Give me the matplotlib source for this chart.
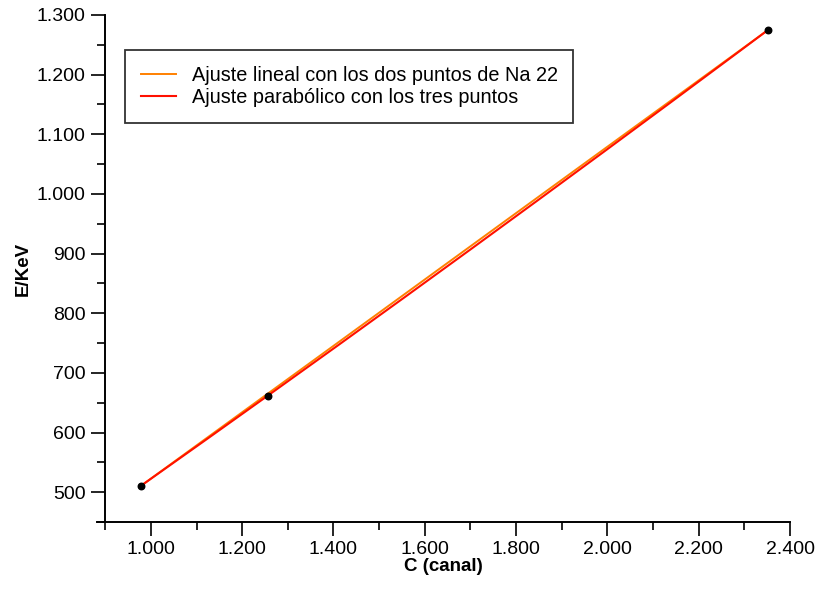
import matplotlib.pyplot as plt
import numpy as np
from matplotlib.ticker import FuncFormatter, MultipleLocator

plt.rcParams['font.family'] = ['Liberation Sans', 'DejaVu Sans']

# Canales medidos y energías de los fotopicos (Na 22 y Cs 137)
canal = [979, 1256, 2351]
energia = [511.0, 661.7, 1274.5]
canal_na = [979, 2351]
energia_na = [511.0, 1274.5]


def miles(v, pos):
    return f'{v:,.0f}'.replace(',', '.')


fig = plt.figure(figsize=(8.15, 5.9), dpi=100)
ax = fig.add_axes([0.119, 0.1153, 0.8504, 0.8593])

x = np.linspace(min(canal), max(canal), 200)
lin = np.polyfit(canal_na, energia_na, 1)
par = np.polyfit(canal, energia, 2)

ax.plot(x, np.polyval(lin, x), color='#ff8000', lw=1.4,
        label='Ajuste lineal con los dos puntos de Na 22')
ax.plot(x, np.polyval(par, x), color='#ff1000', lw=1.5,
        label='Ajuste parabólico con los tres puntos')
ax.scatter(canal, energia, s=22, color='black', zorder=3)

ax.set_xlim(882, 2400)
ax.set_ylim(450, 1300)
ax.spines['left'].set_position(('data', 900))
ax.spines['top'].set_visible(False)
ax.spines['right'].set_visible(False)
for s in ('left', 'bottom'):
    ax.spines[s].set_linewidth(1.4)

ax.xaxis.set_major_locator(MultipleLocator(200))
ax.xaxis.set_minor_locator(MultipleLocator(100))
ax.yaxis.set_major_locator(MultipleLocator(100))
ax.yaxis.set_minor_locator(MultipleLocator(50))
ax.xaxis.set_major_formatter(FuncFormatter(miles))
ax.yaxis.set_major_formatter(FuncFormatter(miles))
ax.set_xticks([v for v in ax.get_xticks() if 1000 <= v <= 2400])
ax.set_yticks([v for v in ax.get_yticks() if 500 <= v <= 1300])
ax.tick_params(which='major', length=10, width=1.2, labelsize=14, pad=4)
ax.tick_params(which='minor', length=6, width=1.2)

ax.set_xlabel('C (canal)', fontsize=13.5, fontweight='bold', labelpad=0)
ax.set_ylabel('E/KeV', fontsize=13.5, fontweight='bold', labelpad=4)

leg = ax.legend(loc='upper left', bbox_to_anchor=(0.0404, 0.931), fontsize=14.3,
                frameon=True, fancybox=False, edgecolor='black',
                handlelength=1.75, handletextpad=0.8, borderpad=0.8,
                labelspacing=0.15, borderaxespad=0)
leg.get_frame().set_linewidth(1.3)

fig.savefig('out.png', dpi=100)
